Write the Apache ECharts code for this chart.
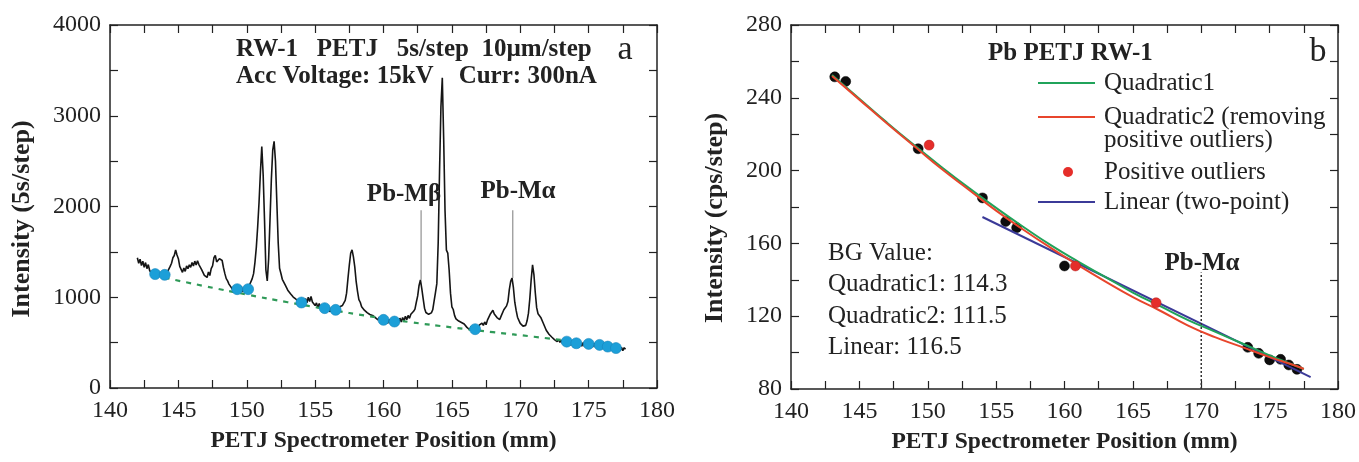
<!DOCTYPE html>
<html>
<head>
<meta charset="utf-8">
<script src="https://cdn.jsdelivr.net/npm/echarts@6/dist/echarts.min.js"></script>
<style>
html,body{margin:0;padding:0;background:#fff;}
#chart{width:1359px;height:462px;}
</style>
</head>
<body>
<div id="chart"></div>
<script>
// ---------- Panel a: WDS scan (counts per 5 s step) ----------
const specStart = 142.0;   // mm, first sampled position
const specStep = 0.1;      // mm between samples shown
const spectrumCounts = [
  1435,1375,1420,1350,1398,1330,1382,1315,1360,1295,
  1310,1248,1292,1240,1285,1222,1278,1230,1272,1218,
  1265,1232,1280,1285,1340,1375,1435,1460,1520,1465,
  1425,1340,1325,1275,1322,1285,1345,1315,1358,1330,
  1382,1345,1398,1355,1402,1360,1358,1305,1300,1242,
  1248,1218,1278,1240,1315,1345,1435,1460,1390,1390,
  1425,1445,1405,1325,1260,1205,1180,1145,1125,1100,
  1112,1058,1115,1055,1108,1062,1118,1058,1105,1062,
  1112,1075,1135,1148,1205,1260,1385,1550,1780,2050,
  2380,2660,2350,1850,1300,1180,1420,1850,2300,2620,
  2718,2500,2050,1600,1320,1262,1198,1208,1138,1138,
  1078,1068,1038,1028,1002,998,978,972,952,950,
  922,975,918,985,938,1000,952,1008,948,958,
  908,938,882,932,872,908,858,898,855,885,
  885,840,888,835,885,838,888,848,895,876,
  910,912,965,1045,1205,1355,1485,1523,1445,1335,
  1175,1065,975,945,895,895,858,870,830,850,
  810,830,800,805,775,795,750,780,740,772,
  755,718,762,712,757,710,755,708,748,718,
  757,720,770,728,777,740,790,752,800,768,
  812,795,845,870,945,1015,1130,1192,1095,985,
  880,832,815,812,804,828,862,958,1052,1150,
  1600,2400,3100,3418,2750,1950,1520,1487,1300,1045,
  895,865,798,762,745,738,730,722,712,705,
  688,668,680,642,678,625,668,622,675,652,
  692,673,715,690,728,698,748,745,812,818,
  856,816,828,776,788,754,792,798,862,868,
  905,952,1085,1175,1211,1105,945,855,780,745,
  712,692,682,675,690,740,825,985,1195,1358,
  1250,1050,885,818,812,778,772,708,690,636,
  645,592,605,562,575,534,545,512,535,502,
  528,488,528,482,520,475,515,470,510,475,
  508,465,508,462,505,460,502,458,498,466,
  500,455,498,452,494,450,492,448,488,450,
  482,443,480,438,476,433,470,430,466,425,
  456,420,452,414,448,412,444,427
];
const bgPos    = [143.3,144.0,149.3,150.1,154.0,155.7,156.5,160.0,160.8,166.7,173.4,174.1,175.0,175.8,176.4,177.0];
const bgCounts = [1255,1247,1089,1089,942,880,861,751,732,648,511,493,486,475,456,440];
const bgFitPos    = [144.0,147.0,150.0,153.0,156.0,159.0,162.0,165.0,168.0,171.0,173.5];
const bgFitCounts = [1215,1120,1030,945,865,790,725,668,615,565,520];
const peakMarkPos    = [162.75,169.45];
const peakMarkBottom = [1192,1211];
const peakMarkTop    = [1960,1960];

// ---------- Panel b: background fit (cps) ----------
const bgPointPos = [143.2,144.0,149.3,154.0,155.7,156.5,160.0,173.4,174.2,175.0,175.8,176.4,177.0];
const bgPointCps = [251.5,249,212,185,172,168.6,147.6,102.9,99.6,96,96.3,93.2,90.8];
const outlierPos = [150.1,160.8,166.7];
const outlierCps = [214,147.6,127.4];
const fitPos   = [143,145,147,149,151,153,155,157,159,161,163,165,167,169,171,173,175,177,177.5];
const quad1Cps = [252.5,239.5,226.5,214,202,190.5,179.5,169,159,150,141.5,133,125.5,118,111.5,105,98.5,92.5,91];
const quad2Cps = [252,239,226,213.5,201,189.5,178,167.5,157.5,148,139,130.5,123,115,108.5,103,97.5,92.5,91];
const linearPos = [154,178];
const linearCps = [174.5,86.5];
const pbMaPos = [170,170];
const pbMaCps = [80,144];

const serif = '"Liberation Serif","Times New Roman",serif';
const ink = '#222';

function pairs(xs, ys){ return xs.map((x,i)=>[x, ys[i]]); }
const spectrumData = spectrumCounts.map((v,i)=>[+(specStart + i*specStep).toFixed(2), v]);

function xAx(grid, pos, showLabel, name){
  return {
    type:'value', gridIndex:grid, position:pos, min:140, max:180, interval:2.5,
    name: name || '', nameLocation:'middle', nameGap:41,
    nameTextStyle:{fontFamily:serif, fontWeight:'bold', fontSize:23.5, color:ink},
    axisLine:{show:true, onZero:false, lineStyle:{color:ink, width:1.5}},
    axisTick:{show:true, inside:true, length:8, lineStyle:{color:ink, width:1.2}},
    axisLabel:{show:showLabel, margin:11, fontFamily:serif, fontSize:24, color:ink,
      showMinLabel:true, showMaxLabel:true,
      formatter:v=> (Math.abs(v%5)<1e-6 ? String(v) : '')},
    splitLine:{show:false}
  };
}
function yAx(grid, pos, min, max, interval, labelEvery, showLabel){
  return {
    type:'value', gridIndex:grid, position:pos, min:min, max:max, interval:interval,
    axisLine:{show:true, onZero:false, lineStyle:{color:ink, width:1.5}},
    axisTick:{show:true, inside:true, length:8, lineStyle:{color:ink, width:1.2}},
    axisLabel:{show:showLabel, margin:9, fontFamily:serif, fontSize:24, color:ink,
      showMinLabel:true, showMaxLabel:true,
      formatter:v=> (Math.abs(v%labelEvery)<1e-6 ? String(v) : '')},
    splitLine:{show:false}
  };
}

const chart = echarts.init(document.getElementById('chart'), null, {renderer:'canvas'});

const txt = (x,y,text,opt,extra)=>Object.assign({type:'text', x:x, y:y, z:20,
  style:Object.assign({text:text, fontFamily:serif, fontSize:25, fill:ink, textVerticalAlign:'middle', verticalAlign:'middle'}, opt||{})}, extra||{});

const option = {
  animation:false,
  backgroundColor:'#fff',
  grid:[
    {left:110, right:702, top:25, bottom:74},
    {left:791, right:18, top:25, bottom:73}
  ],
  xAxis:[
    xAx(0,'bottom',true,'PETJ Spectrometer Position (mm)'),
    xAx(0,'top',false),
    xAx(1,'bottom',true,'PETJ Spectrometer Position (mm)'),
    xAx(1,'top',false)
  ],
  yAxis:[
    yAx(0,'left',0,4000,500,1000,true),
    yAx(0,'right',0,4000,500,1000,false),
    yAx(1,'left',80,280,20,40,true),
    yAx(1,'right',80,280,20,40,false)
  ],
  series:[
    {type:'line', xAxisIndex:0, yAxisIndex:0, data:spectrumData, showSymbol:false,
      lineStyle:{color:'#151515', width:1.6}, z:2},
    ...peakMarkPos.map((p,i)=>({type:'line', xAxisIndex:0, yAxisIndex:0,
      data:[[p,peakMarkBottom[i]],[p,peakMarkTop[i]]], showSymbol:false,
      lineStyle:{color:'#a0a0a0', width:1.4}, z:1})),
    {type:'line', xAxisIndex:0, yAxisIndex:0, data:pairs(bgFitPos,bgFitCounts), showSymbol:false, smooth:true,
      lineStyle:{color:'#2f9a58', width:2.2, type:[5,6]}, z:3},
    {type:'scatter', xAxisIndex:0, yAxisIndex:0, data:pairs(bgPos,bgCounts), symbolSize:11,
      itemStyle:{color:'#1c9fd8', borderColor:'#1785ba', borderWidth:0.6, opacity:1}, z:4},

    {type:'scatter', xAxisIndex:2, yAxisIndex:2, data:pairs(bgPointPos,bgPointCps), symbolSize:10,
      itemStyle:{color:'#0d0d0d', borderColor:'#000', borderWidth:0.5, opacity:1}, z:2},
    {type:'line', xAxisIndex:2, yAxisIndex:2, data:pairs(linearPos,linearCps), showSymbol:false,
      lineStyle:{color:'#3b3a98', width:2}, z:3},
    {type:'line', xAxisIndex:2, yAxisIndex:2, data:pairs(fitPos,quad1Cps), showSymbol:false, smooth:true,
      lineStyle:{color:'#20a35a', width:2}, z:4},
    {type:'line', xAxisIndex:2, yAxisIndex:2, data:pairs(fitPos,quad2Cps), showSymbol:false, smooth:true,
      lineStyle:{color:'#e8452c', width:2}, z:5},
    {type:'scatter', xAxisIndex:2, yAxisIndex:2, data:pairs(outlierPos,outlierCps), symbolSize:10,
      itemStyle:{color:'#e52e2a', borderColor:'#b02020', borderWidth:0.5, opacity:1}, z:6},
    {type:'line', xAxisIndex:2, yAxisIndex:2, data:pairs(pbMaPos,pbMaCps), showSymbol:false,
      lineStyle:{color:'#333', width:1.5, type:[2,2]}, z:3}
  ],
  graphic:[
    txt(22,219,'Intensity (5s/step)',{fontWeight:'bold',fontSize:26,textAlign:'center',align:'center'},{rotation:Math.PI/2}),
    txt(715,218,'Intensity (cps/step)',{fontWeight:'bold',fontSize:26,textAlign:'center',align:'center'},{rotation:Math.PI/2}),

    txt(236,50,'RW-1   PETJ   5s/step  10µm/step',{fontWeight:'bold'}),
    txt(236,77,'Acc Voltage: 15kV    Curr: 300nA',{fontWeight:'bold'}),
    txt(625,50,'a',{fontSize:34,textAlign:'center',align:'center'}),
    txt(404,195,'Pb-Mβ',{fontWeight:'bold',textAlign:'center',align:'center'}),
    txt(518,192,'Pb-Mα',{fontWeight:'bold',textAlign:'center',align:'center'}),

    txt(988,54,'Pb PETJ RW-1',{fontWeight:'bold'}),
    txt(1318,52,'b',{fontSize:34,textAlign:'center',align:'center'}),
    {type:'line', z:20, shape:{x1:1038,y1:83,x2:1095,y2:83}, style:{stroke:'#20a35a', lineWidth:2}},
    {type:'line', z:20, shape:{x1:1038,y1:117,x2:1095,y2:117}, style:{stroke:'#e8452c', lineWidth:2}},
    {type:'circle', z:20, shape:{cx:1068,cy:172,r:5}, style:{fill:'#e52e2a'}},
    {type:'line', z:20, shape:{x1:1038,y1:202,x2:1095,y2:202}, style:{stroke:'#3b3a98', lineWidth:2}},
    txt(1104,83,'Quadratic1'),
    txt(1104,117,'Quadratic2 (removing'),
    txt(1104,140,'positive outliers)'),
    txt(1104,172,'Positive outliers'),
    txt(1104,202,'Linear (two-point)'),

    txt(828,253,'BG Value:'),
    txt(828,284,'Quadratic1: 114.3'),
    txt(828,316,'Quadratic2: 111.5'),
    txt(828,347,'Linear: 116.5'),
    txt(1202,264,'Pb-Mα',{fontWeight:'bold',textAlign:'center',align:'center'})
  ]
};
chart.setOption(option);
</script>
</body>
</html>
